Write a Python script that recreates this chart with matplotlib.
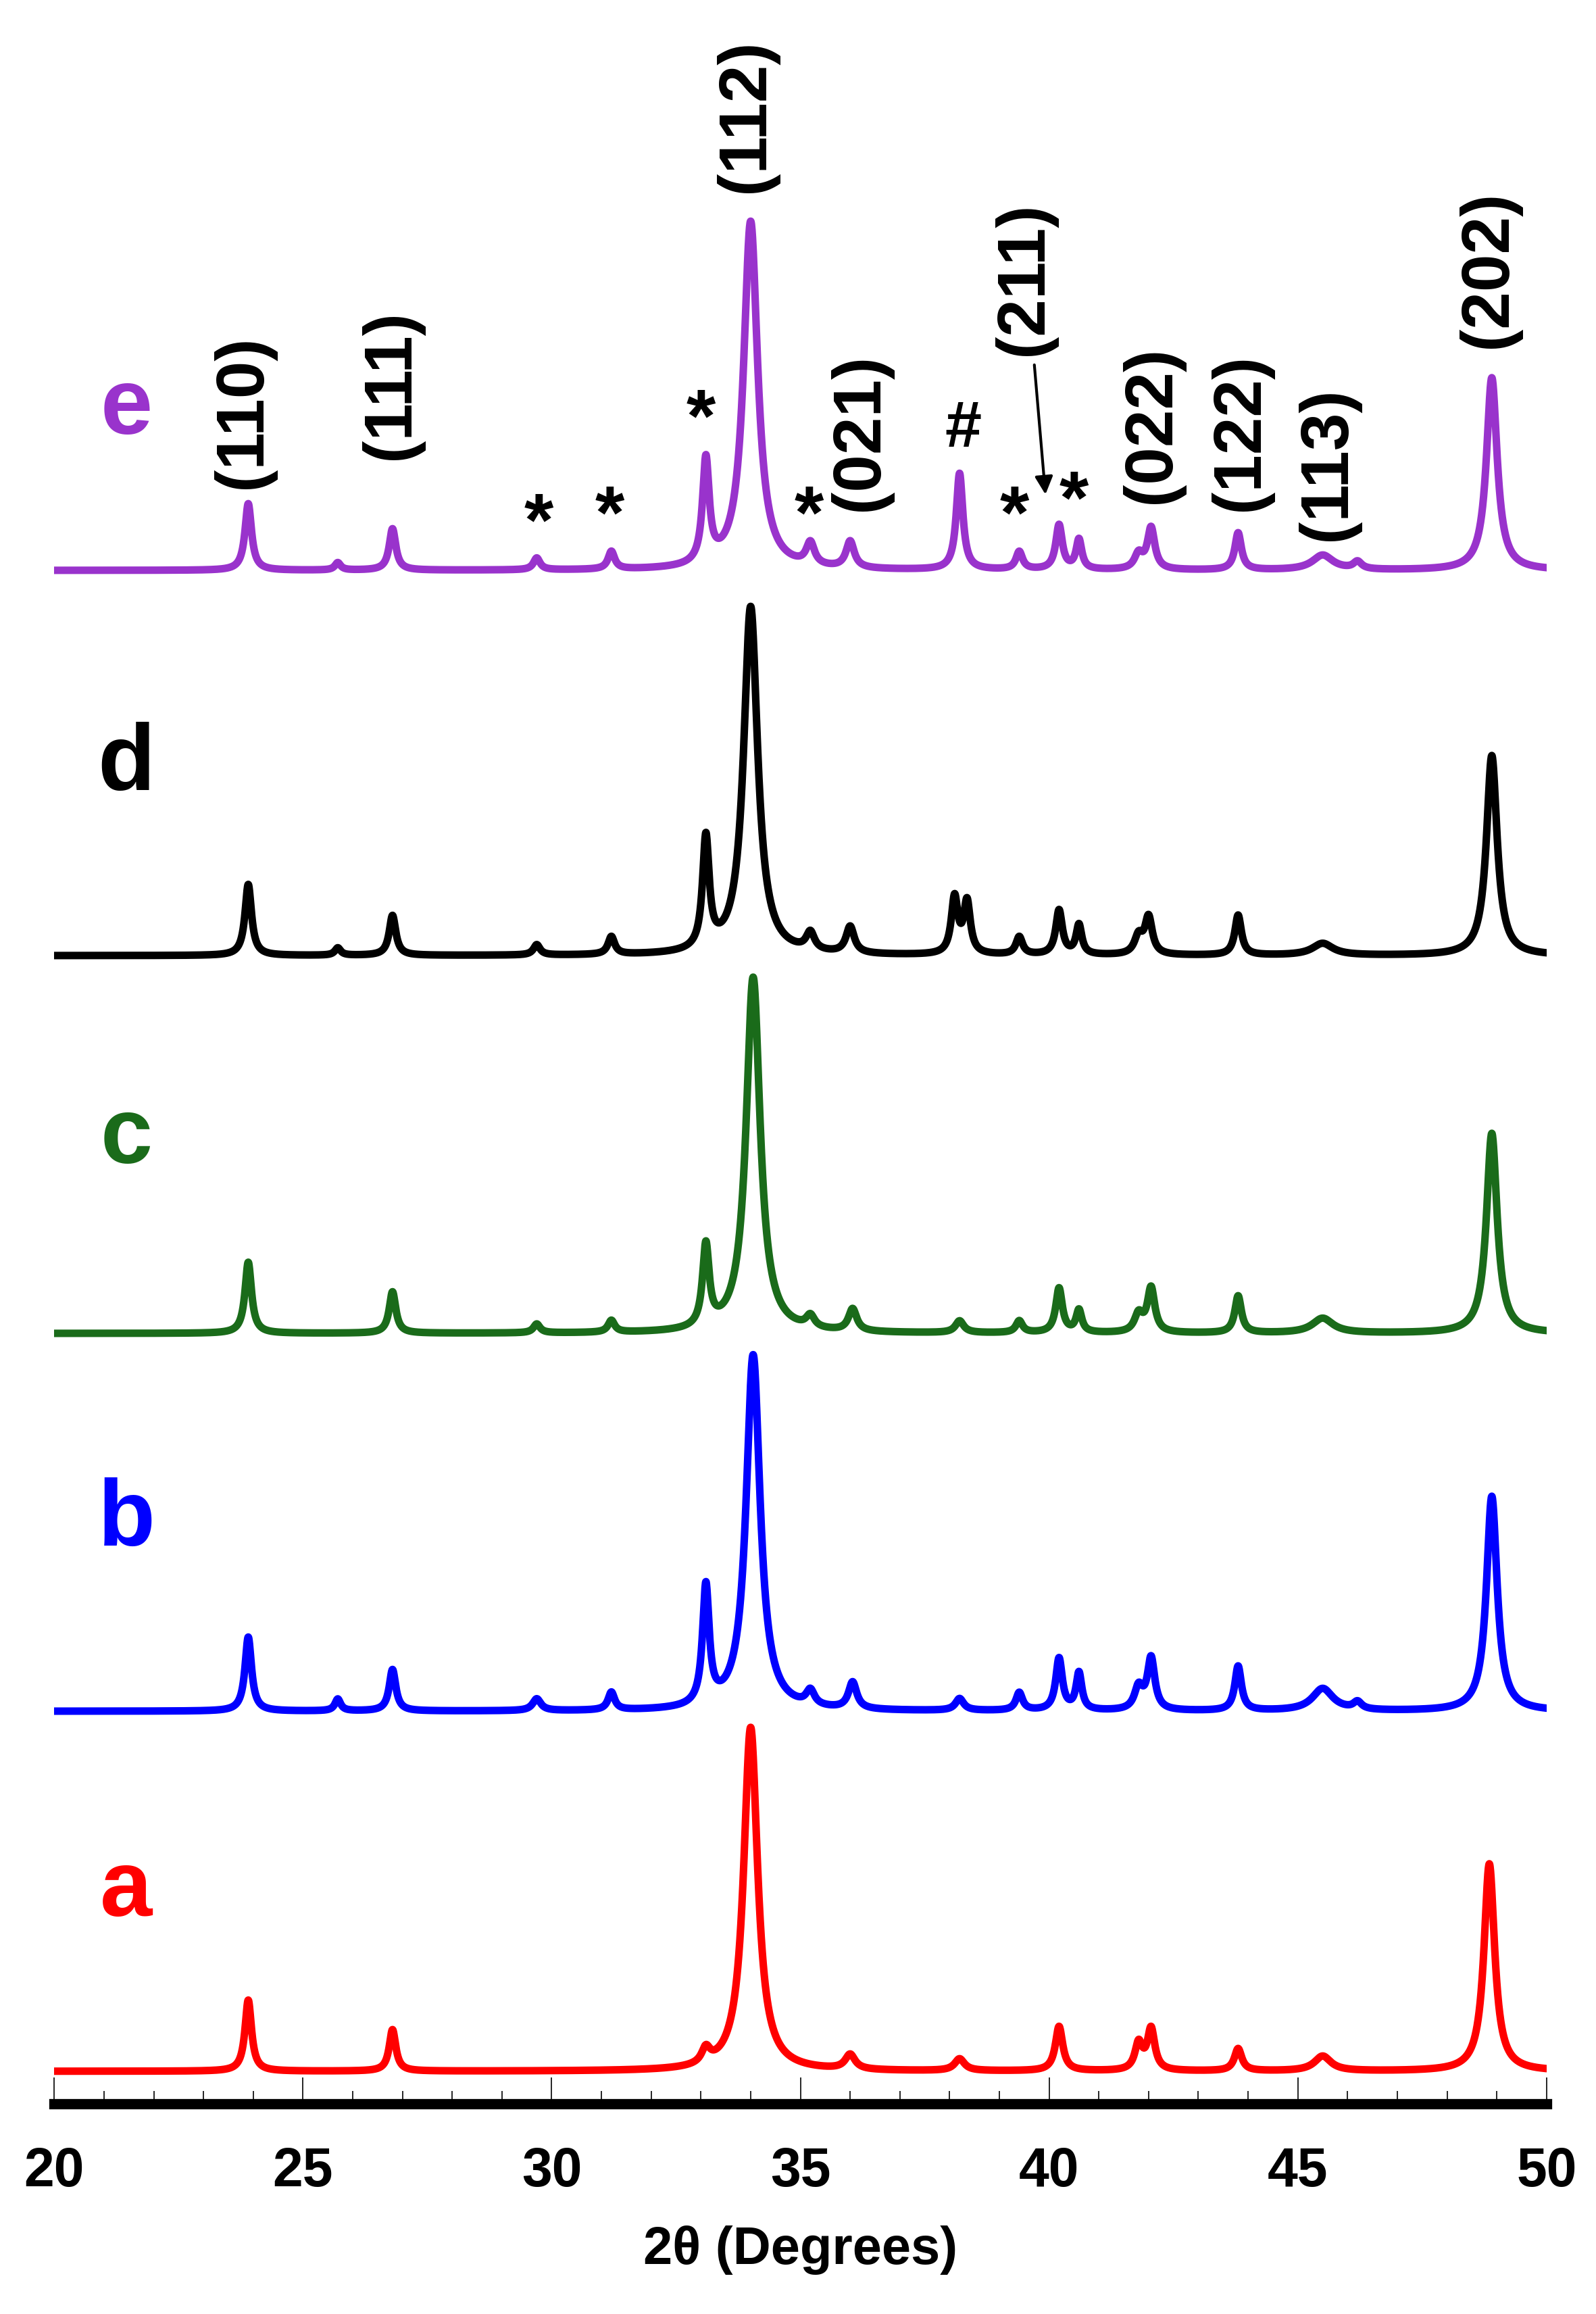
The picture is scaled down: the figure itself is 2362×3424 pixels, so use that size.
import numpy as np
import matplotlib
matplotlib.use("Agg")
import matplotlib.pyplot as plt
from matplotlib.ticker import MultipleLocator

plt.rcParams['font.family'] = ['Liberation Sans', 'DejaVu Sans']

# peak lists: (position 2theta, height, half-width)
peaks_a = [(23.9,48,.08),(26.8,28,.08),(33.1,10,.1),(34.0,232,.17),(36.0,10,.12),(38.2,8,.12),
           (40.2,30,.09),(41.8,18,.09),(42.05,28,.09),(43.8,15,.09),(45.5,10,.2),(48.85,140,.13)]
peaks_b = [(23.9,50,.08),(25.7,8,.07),(26.8,28,.08),(29.7,8,.1),(31.2,12,.08),(33.1,80,.08),
           (34.05,240,.17),(35.2,10,.1),(36.05,18,.1),(38.2,8,.1),(39.4,12,.08),(40.2,35,.08),
           (40.6,25,.07),(41.8,15,.1),(42.05,35,.09),(43.8,30,.08),(45.5,15,.25),(46.2,5,.1),(48.9,145,.13)]
peaks_c = [(23.9,48,.08),(26.8,28,.08),(29.7,6,.08),(31.2,8,.08),(33.1,55,.08),(34.05,240,.17),
           (35.2,8,.1),(36.05,15,.1),(38.2,8,.1),(39.4,8,.08),(40.2,30,.08),(40.6,15,.07),
           (41.8,12,.1),(42.05,30,.09),(43.8,25,.08),(45.5,10,.25),(48.9,135,.13)]
peaks_d = [(23.9,48,.08),(25.7,5,.07),(26.8,27,.08),(29.7,7,.08),(31.2,12,.08),(33.1,75,.08),
           (34.0,235,.17),(35.2,12,.1),(36.0,18,.1),(38.1,38,.08),(38.35,35,.08),(39.4,12,.08),
           (40.2,30,.08),(40.6,20,.07),(41.8,12,.1),(42.0,25,.09),(43.8,27,.08),(45.5,8,.25),(48.9,135,.13)]
peaks_e = [(23.9,45,.08),(25.7,5,.07),(26.8,28,.08),(29.7,8,.08),(31.2,12,.08),(33.1,70,.08),
           (34.0,235,.17),(35.2,15,.1),(36.0,18,.1),(38.2,65,.08),(39.4,12,.08),(40.2,30,.08),
           (40.6,20,.07),(41.8,10,.1),(42.05,28,.09),(43.8,25,.08),(45.5,10,.25),(46.2,5,.1),(48.9,130,.13)]
series = [("a", peaks_a, 22, "#ff0000"), ("b", peaks_b, 265, "#0000ff"),
          ("c", peaks_c, 520, "#1a6b1a"), ("d", peaks_d, 775, "#000000"),
          ("e", peaks_e, 1035, "#9933cc")]
letter_y = [127, 377, 635, 887, 1127]

hkl_labels = ["(110)","(111)","(112)","(021)","(211)","(022)","(122)","(113)","(202)"]
hkl_x = [23.8, 26.77, 33.9, 36.2, 39.5, 42.07, 43.85, 45.6, 48.84]
hkl_y = [1090, 1110, 1290, 1075, 1180, 1080, 1075, 1055, 1185]
star_x = [29.74, 31.17, 33.0, 35.18, 39.3, 40.5]
star_y = [1065, 1070, 1135, 1070, 1070, 1080]

fig = plt.figure(figsize=(23.62, 34.24), dpi=100)
ax = fig.add_axes([0.034, 0.0908, 0.935, 0.9092])
x = np.linspace(20, 50, 6000)
for name, pk, base, col in series:
    y = np.full_like(x, base, dtype=float)
    for p, h, w in pk:
        y += h / (1 + ((x - p) / w) ** 2)
    ax.plot(x, y, color=col, lw=8, solid_joinstyle='round')

for (name, pk, base, col), ly in zip(series, letter_y):
    ax.text(21.45, ly, name, color=col, fontsize=100, fontweight='bold', ha='center', va='baseline')

for t, xx, yy in zip(hkl_labels, hkl_x, hkl_y):
    ax.text(xx, yy, t, rotation=90, fontsize=72, fontweight='bold', ha='center', va='bottom')
for xx, yy in zip(star_x, star_y):
    ax.text(xx, yy, "*", fontsize=80, fontweight='bold', ha='center', va='center')
ax.text(38.27, 1130, "#", fontsize=70, fontweight='bold', ha='center', va='center')
ax.annotate("", xy=(39.93, 1085), xytext=(39.7, 1175),
            arrowprops=dict(arrowstyle='-|>', lw=3, color='black', mutation_scale=40))

ax.set_xlim(20, 50)
ax.set_ylim(0, 1420)
for s in ['top', 'right', 'left']:
    ax.spines[s].set_visible(False)
ax.spines['bottom'].set_linewidth(11)
ax.set_yticks([])
ax.xaxis.set_major_locator(MultipleLocator(5))
ax.xaxis.set_minor_locator(MultipleLocator(1))
ax.tick_params(axis='x', which='major', direction='in', length=28, width=1.2, pad=45,
               labelsize=58)
ax.tick_params(axis='x', which='minor', direction='in', length=14, width=1.2)
for lab in ax.get_xticklabels():
    lab.set_fontweight('bold')
ax.set_xlabel("2θ (Degrees)", fontsize=56, fontweight='bold', labelpad=30)
fig.savefig("out.png", dpi=100)
